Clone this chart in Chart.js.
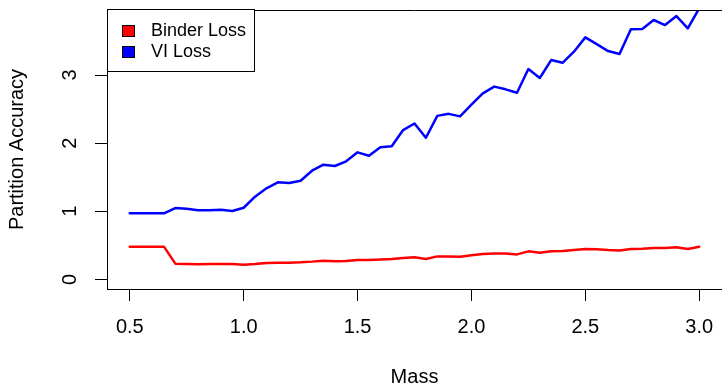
<!DOCTYPE html>
<html><head><meta charset="utf-8">
<script src="https://cdn.jsdelivr.net/npm/chart.js@4/dist/chart.umd.min.js"></script>
<style>html,body{margin:0;padding:0;background:#fff}#wrap{width:722px;height:389px}</style>
</head><body><div id="wrap"><canvas id="c" width="722" height="389"></canvas></div>
<script>
const mass = [0.5,0.55,0.6,0.65,0.7,0.75,0.8,0.85,0.9,0.95,
  1.0,1.05,1.1,1.15,1.2,1.25,1.3,1.35,1.4,1.45,
  1.5,1.55,1.6,1.65,1.7,1.75,1.8,1.85,1.9,1.95,
  2.0,2.05,2.1,2.15,2.2,2.25,2.3,2.35,2.4,2.45,
  2.5,2.55,2.6,2.65,2.7,2.75,2.8,2.85,2.9,2.95,3.0];
const binderLoss = [0.48,0.48,0.48,0.48,0.23,0.225,0.22,0.225,0.225,0.225,
  0.215,0.225,0.24,0.245,0.245,0.25,0.26,0.274,0.264,0.27,
  0.284,0.284,0.293,0.298,0.313,0.323,0.298,0.337,0.337,0.332,
  0.352,0.371,0.381,0.381,0.366,0.411,0.391,0.411,0.415,0.43,
  0.445,0.44,0.43,0.425,0.445,0.45,0.46,0.46,0.47,0.445,0.479];
const viLoss = [0.97,0.97,0.97,0.97,1.047,1.037,1.013,1.013,1.022,1.003,
  1.051,1.213,1.336,1.424,1.414,1.448,1.595,1.683,1.664,1.733,
  1.865,1.815,1.938,1.953,2.192,2.288,2.079,2.40,2.43,2.393,
  2.564,2.731,2.83,2.79,2.74,3.088,2.956,3.22,3.18,3.343,
  3.553,3.455,3.352,3.308,3.671,3.675,3.808,3.734,3.866,3.686,3.98];
const seriesNames = ['Binder Loss','VI Loss'];
const seriesColors = ['#ff0000','#0000ff'];
const xTicks = [0.5,1.0,1.5,2.0,2.5,3.0];
const yTicks = [0,1,2,3];

const FONT = '"Liberation Sans", Arial, Helvetica, sans-serif';
const FS = 18;   // legend
const AFS = 20;  // axis labels and titles

const boxPlugin = {
  id: 'rbox',
  afterDraw(chart) {
    const {ctx, chartArea: a} = chart;
    ctx.save();
    ctx.strokeStyle = '#000';
    ctx.lineWidth = 1;
    ctx.beginPath();
    ctx.moveTo(a.left, a.top + 0.5);
    ctx.lineTo(a.right, a.top + 0.5);
    ctx.stroke();
    // legend
    const lx = a.left, ly = a.top - 1, lw = 147, lh = 62;
    ctx.fillStyle = '#fff';
    ctx.fillRect(lx, ly, lw, lh);
    ctx.strokeRect(lx + 0.5, ly + 0.5, lw, lh);
    ctx.font = FS + 'px ' + FONT;
    ctx.textBaseline = 'middle';
    ctx.textAlign = 'left';
    chart.data.datasets.forEach((ds, i) => {
      const cy = ly + 22 + i * 21;
      ctx.fillStyle = ds.borderColor;
      ctx.fillRect(lx + 15.5, cy - 5.5, 12, 11);
      ctx.strokeStyle = '#000';
      ctx.strokeRect(lx + 15.5, cy - 5.5, 12, 11);
      ctx.fillStyle = '#000';
      ctx.fillText(ds.label, lx + 44, cy);
    });
    ctx.restore();
  }
};

new Chart(document.getElementById('c'), {
  type: 'line',
  data: {
    datasets: [
      { label: seriesNames[0], data: mass.map((m, i) => ({x: m, y: binderLoss[i]})), borderColor: seriesColors[0], backgroundColor: seriesColors[0] },
      { label: seriesNames[1], data: mass.map((m, i) => ({x: m, y: viLoss[i]})), borderColor: seriesColors[1], backgroundColor: seriesColors[1] }
    ]
  },
  options: {
    responsive: false,
    animation: false,
    devicePixelRatio: 1,
    layout: { padding: { top: 10, right: 0, left: 0, bottom: 0 } },
    elements: { point: { radius: 0 }, line: { tension: 0, borderWidth: 2.5, borderCapStyle: 'round', borderJoinStyle: 'round' } },
    plugins: { legend: { display: false }, tooltip: { enabled: false } },
    scales: {
      x: {
        type: 'linear', min: 0.4, max: 3.1,
        afterBuildTicks: s => { s.ticks = xTicks.map(v => ({value: v})); },
        afterFit: s => { s.height = 100; s.paddingLeft = 0; s.paddingRight = 0; },
        grid: { drawOnChartArea: false, drawTicks: true, tickLength: 12, color: '#000', lineWidth: 1 },
        border: { display: true, color: '#000', width: 1 },
        ticks: { color: '#000', font: { family: FONT, size: AFS }, padding: 14, maxRotation: 0, minRotation: 0, callback: v => Number(v).toFixed(1) },
        title: { display: true, text: 'Mass', color: '#000', font: { family: FONT, size: AFS }, padding: { top: 0, bottom: 0 } }
      },
      y: {
        type: 'linear', min: -0.142, max: 3.955,
        afterBuildTicks: s => { s.ticks = yTicks.map(v => ({value: v})); },
        afterFit: s => { s.width = 107; s.paddingTop = 0; s.paddingBottom = 0; },
        grid: { drawOnChartArea: false, drawTicks: true, tickLength: 12, color: '#000', lineWidth: 1 },
        border: { display: true, color: '#000', width: 1 },
        ticks: { color: '#000', font: { family: FONT, size: AFS }, padding: 19, minRotation: 90, maxRotation: 90, crossAlign: 'center', callback: v => String(v) },
        title: { display: true, text: 'Partition Accuracy', color: '#000', font: { family: FONT, size: AFS }, padding: { top: 5, bottom: 0 } }
      }
    }
  },
  plugins: [boxPlugin]
});
</script>
</body></html>
